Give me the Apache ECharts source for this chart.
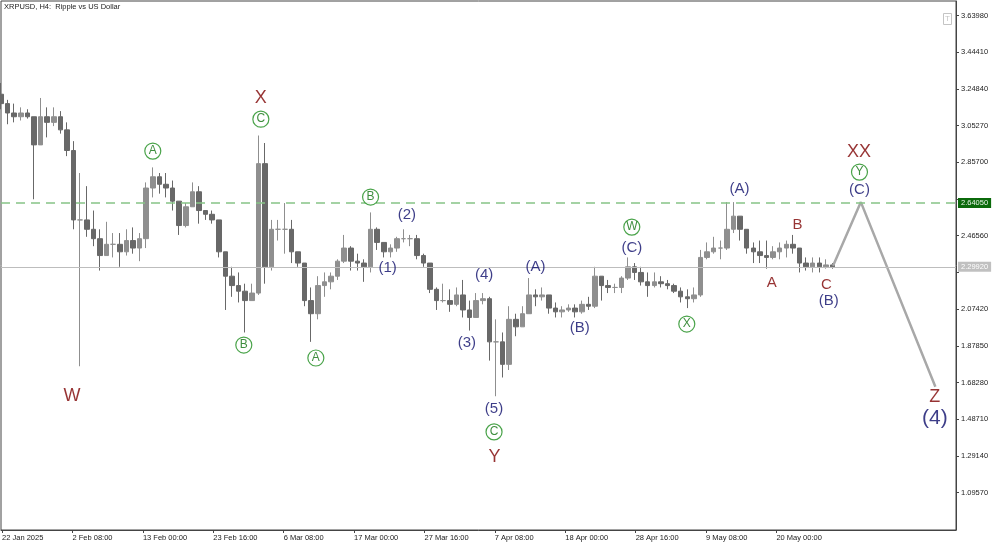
<!DOCTYPE html>
<html>
<head>
<meta charset="utf-8">
<title>XRPUSD H4</title>
<script src="https://cdn.jsdelivr.net/npm/echarts@6/dist/echarts.min.js"></script>
<style>
html, body { margin: 0; padding: 0; background: #fff; }
#chart { width: 1000px; height: 545px; }
</style>
</head>
<body>
<div id="chart"></div>
<script>
// daily bars, first bar = 22 Jan 2025
var firstDay = [2025, 0, 22];
var firstOpen = 3.22;
var highs = [
  3.28, 3.19, 3.17, 3.15, 3.14, 3.10, 3.20, 3.15, 3.15, 3.13, 3.07, 2.97, 2.80, 2.73, 2.60, 2.50,
  2.54, 2.48, 2.48, 2.50, 2.51, 2.48, 2.75, 2.83, 2.80, 2.80, 2.76, 2.64, 2.64, 2.75, 2.73, 2.60,
  2.60, 2.51, 2.35, 2.30, 2.27, 2.21, 2.21, 3.00, 2.96, 2.55, 2.55, 2.64, 2.55, 2.38, 2.32, 2.19,
  2.25, 2.27, 2.27, 2.34, 2.47, 2.41, 2.37, 2.34, 2.59, 2.51, 2.43, 2.42, 2.46, 2.50, 2.47, 2.47,
  2.37, 2.32, 2.19, 2.21, 2.18, 2.19, 2.23, 2.12, 2.16, 2.16, 2.14, 2.02, 1.95, 2.09, 2.05, 2.09,
  2.24, 2.18, 2.19, 2.15, 2.11, 2.09, 2.10, 2.10, 2.12, 2.14, 2.30, 2.25, 2.23, 2.21, 2.25, 2.35,
  2.32, 2.30, 2.27, 2.27, 2.25, 2.23, 2.21, 2.19, 2.18, 2.19, 2.39, 2.43, 2.46, 2.44, 2.645, 2.645,
  2.57, 2.50, 2.43, 2.44, 2.44, 2.41, 2.43, 2.44, 2.47, 2.40, 2.35, 2.35, 2.35, 2.34, 2.32
];
var lows = [
  3.14, 3.06, 3.07, 3.08, 3.09, 2.66, 2.95, 2.99, 3.05, 3.01, 2.89, 2.50, 1.77, 2.46, 2.41, 2.28,
  2.36, 2.35, 2.30, 2.36, 2.37, 2.33, 2.40, 2.67, 2.69, 2.67, 2.60, 2.47, 2.51, 2.66, 2.53, 2.55,
  2.53, 2.35, 2.07, 2.14, 2.11, 1.95, 2.12, 2.15, 2.21, 2.28, 2.44, 2.37, 2.32, 2.30, 2.09, 1.90,
  2.02, 2.14, 2.18, 2.23, 2.32, 2.28, 2.28, 2.22, 2.27, 2.39, 2.35, 2.35, 2.38, 2.43, 2.41, 2.34,
  2.30, 2.16, 2.07, 2.11, 2.06, 2.09, 2.03, 1.96, 2.03, 2.10, 1.80, 1.61, 1.71, 1.75, 1.93, 1.98,
  2.05, 2.09, 2.12, 2.05, 2.03, 2.03, 2.06, 2.03, 2.05, 2.07, 2.08, 2.12, 2.16, 2.16, 2.16, 2.23,
  2.23, 2.20, 2.14, 2.19, 2.19, 2.18, 2.16, 2.11, 2.08, 2.11, 2.14, 2.34, 2.37, 2.34, 2.39, 2.48,
  2.44, 2.37, 2.32, 2.32, 2.29, 2.34, 2.34, 2.35, 2.37, 2.27, 2.28, 2.27, 2.27, 2.29, 2.29
];
var closes = [
  3.17, 3.12, 3.10, 3.12, 3.10, 2.95, 3.10, 3.07, 3.10, 3.03, 2.92, 2.55, 2.55, 2.50, 2.45, 2.36,
  2.42, 2.42, 2.38, 2.44, 2.40, 2.45, 2.72, 2.78, 2.74, 2.72, 2.65, 2.52, 2.62, 2.70, 2.60, 2.58,
  2.55, 2.38, 2.25, 2.20, 2.17, 2.12, 2.16, 2.85, 2.30, 2.50, 2.50, 2.50, 2.38, 2.32, 2.12, 2.05,
  2.20, 2.22, 2.25, 2.33, 2.40, 2.33, 2.32, 2.30, 2.50, 2.43, 2.38, 2.40, 2.45, 2.45, 2.45, 2.36,
  2.32, 2.18, 2.12, 2.12, 2.10, 2.15, 2.07, 2.03, 2.12, 2.13, 1.90, 1.90, 1.78, 2.02, 1.98, 2.05,
  2.15, 2.14, 2.15, 2.08, 2.06, 2.07, 2.08, 2.06, 2.10, 2.09, 2.25, 2.20, 2.19, 2.19, 2.24, 2.30,
  2.27, 2.22, 2.20, 2.22, 2.21, 2.20, 2.17, 2.14, 2.13, 2.15, 2.35, 2.38, 2.40, 2.40, 2.50, 2.57,
  2.50, 2.40, 2.38, 2.36, 2.35, 2.38, 2.40, 2.42, 2.40, 2.32, 2.30, 2.32, 2.30, 2.31, 2.30
];

var xTickTimes = ['2025-01-22T16:00', '2025-02-02T08:00', '2025-02-13T00:00', '2025-02-23T16:00',
  '2025-03-06T08:00', '2025-03-17T00:00', '2025-03-27T16:00', '2025-04-07T08:00',
  '2025-04-18T00:00', '2025-04-28T16:00', '2025-05-09T08:00', '2025-05-20T00:00'];
var xTickLabels = ['22 Jan 2025', '2 Feb 08:00', '13 Feb 00:00', '23 Feb 16:00', '6 Mar 08:00',
  '17 Mar 00:00', '27 Mar 16:00', '7 Apr 08:00', '18 Apr 00:00', '28 Apr 16:00', '9 May 08:00',
  '20 May 00:00'];
var yTickValues = [1.09570, 1.29140, 1.48710, 1.68280, 1.87850, 2.07420, 2.26990, 2.46560,
  2.66130, 2.85700, 3.05270, 3.24840, 3.44410, 3.63980];
var yLabelValues = [1.09570, 1.29140, 1.48710, 1.68280, 1.87850, 2.07420, 2.46560,
  2.85700, 3.05270, 3.24840, 3.44410, 3.63980];

var targetLevel = 2.64050;
var lastPrice = 2.29920;

var forecastTimes = ['2025-05-28T14:00', '2025-06-01T19:00', '2025-06-13T02:00'];
var forecastValues = [2.306, 2.645, 1.661];

// wave marks
var bigRedText = ['W', 'X', 'Y', 'XX', 'Z'];
var bigRedTimes = ['2025-02-02T06:00', '2025-03-02T21:00', '2025-04-07T07:00', '2025-06-01T12:00', '2025-06-13T00:00'];
var bigRedPrices = [1.611, 3.199, 1.287, 2.912, 1.606];

var smallRedText = ['A', 'B', 'C'];
var smallRedTimes = ['2025-05-19T07:00', '2025-05-23T05:00', '2025-05-27T14:00'];
var smallRedPrices = [2.214, 2.523, 2.203];

var navyText = ['(1)', '(2)', '(3)', '(4)', '(5)', '(A)', '(B)', '(C)', '(A)', '(B)', '(C)'];
var navyTimes = ['2025-03-22T02:00', '2025-03-25T00:00', '2025-04-03T02:00', '2025-04-05T17:00',
  '2025-04-07T05:00', '2025-04-13T12:00', '2025-04-20T05:00', '2025-04-28T02:00',
  '2025-05-14T10:00', '2025-05-27T22:00', '2025-06-01T14:00'];
var navyPrices = [2.293, 2.576, 1.894, 2.256, 1.542, 2.300, 1.973, 2.400, 2.715, 2.118, 2.709];

var degreeText = ['(4)'];
var degreeTimes = ['2025-06-13T00:00'];
var degreePrices = [1.494];

var circleText = ['A', 'C', 'B', 'A', 'B', 'C', 'W', 'X', 'Y'];
var circleTimes = ['2025-02-14T12:00', '2025-03-02T21:00', '2025-02-28T07:00', '2025-03-11T05:00',
  '2025-03-19T12:00', '2025-04-07T05:00', '2025-04-28T02:00', '2025-05-06T10:00', '2025-06-01T14:00'];
var circlePrices = [2.917, 3.087, 1.883, 1.814, 2.672, 1.420, 2.512, 1.995, 2.805];

function ts(s) { return new Date(s).getTime(); }

var bars = [];
var prev = firstOpen;
for (var i = 0; i < closes.length; i++) {
  var t = new Date(firstDay[0], firstDay[1], firstDay[2] + i, 12).getTime();
  var o = prev;
  bars.push([t, o, closes[i], Math.min(lows[i], o), Math.max(highs[i], o)]);
  prev = closes[i];
}

var xTickStamps = xTickTimes.map(ts);

function marks(texts, times, prices) {
  return texts.map(function (s, k) { return { name: s, value: [ts(times[k]), prices[k]] }; });
}

var font = "'Liberation Sans', Arial, sans-serif";

function textSeries(texts, times, prices, color, size) {
  return {
    type: 'scatter',
    symbol: 'circle',
    symbolSize: 1,
    itemStyle: { color: 'rgba(0,0,0,0)' },
    silent: true,
    z: 5,
    label: {
      show: true, position: 'inside', formatter: '{b}',
      color: color, fontSize: size, fontFamily: font
    },
    data: marks(texts, times, prices)
  };
}

var chart = echarts.init(document.getElementById('chart'));

var option = {
  animation: false,
  backgroundColor: '#ffffff',
  title: {
    text: 'XRPUSD, H4:  Ripple vs US Dollar',
    left: 4, top: 3, padding: 0,
    textStyle: { fontSize: 7.5, fontWeight: 'normal', color: '#222', fontFamily: font }
  },
  graphic: [
    { type: 'rect', left: 943, top: 13, shape: { width: 8, height: 11 },
      style: { fill: '#fff', stroke: '#c4c4c4', lineWidth: 1 } },
    { type: 'text', left: 945, top: 15, style: { text: 'T', fill: '#c4c4c4', fontSize: 8, fontFamily: font } }
  ],
  grid: {
    left: 1, right: 44, top: 1, bottom: 15,
    containLabel: false, outerBoundsMode: 'none',
    show: true, borderColor: '#444', borderWidth: 1, backgroundColor: '#fff'
  },
  xAxis: {
    type: 'value',
    scale: true,
    min: ts('2025-01-22T12:00'),
    max: ts('2025-06-16T05:00'),
    axisLine: { show: true, onZero: false, lineStyle: { color: '#444' } },
    axisTick: { show: true, length: 3, customValues: xTickStamps, lineStyle: { color: '#444' } },
    axisLabel: {
      customValues: xTickStamps, align: 'left', margin: 4,
      fontSize: 7.5, color: '#222', fontFamily: font,
      formatter: function (v) { var k = xTickStamps.indexOf(v); return k >= 0 ? xTickLabels[k] : ''; }
    },
    splitLine: { show: false }
  },
  yAxis: {
    type: 'value',
    position: 'right',
    min: 0.897, max: 3.717,
    axisLine: { show: true, lineStyle: { color: '#444' } },
    axisTick: { show: true, length: 3, customValues: yTickValues, lineStyle: { color: '#444' } },
    axisLabel: {
      customValues: yLabelValues, margin: 5,
      fontSize: 7.5, color: '#222', fontFamily: font,
      formatter: function (v) { return v.toFixed(5); }
    },
    splitLine: { show: false }
  },
  series: [
    {
      type: 'candlestick',
      encode: { x: 0, y: [1, 2, 3, 4] },
      barWidth: 5,
      clip: true,
      itemStyle: {
        color: '#8f8f8f', color0: '#686868',
        borderColor: '#8f8f8f', borderColor0: '#686868', borderWidth: 1
      },
      data: bars,
      markLine: {
        silent: true,
        symbol: ['none', 'none'],
        data: [
          {
            yAxis: targetLevel,
            lineStyle: { color: '#86c486', type: [9, 6], width: 1.5 },
            label: {
              show: true, position: 'end', distance: 2, formatter: targetLevel.toFixed(5),
              backgroundColor: '#0b6a0b', color: '#e8f5e8', padding: [1, 3],
              fontSize: 7.5, fontFamily: font
            }
          },
          {
            yAxis: lastPrice,
            lineStyle: { color: '#bdbdbd', type: 'solid', width: 1 },
            label: {
              show: true, position: 'end', distance: 2, formatter: lastPrice.toFixed(5),
              backgroundColor: '#c0c0c0', color: '#ffffff', padding: [1, 3],
              fontSize: 7.5, fontFamily: font
            }
          }
        ]
      }
    },
    {
      type: 'line',
      symbol: 'none',
      silent: true,
      z: 4,
      lineStyle: { color: '#a8a8a8', width: 2.5 },
      data: forecastTimes.map(function (s, k) { return [ts(s), forecastValues[k]]; })
    },
    textSeries(bigRedText, bigRedTimes, bigRedPrices, '#7d0000', 18),
    textSeries(smallRedText, smallRedTimes, smallRedPrices, '#7d0000', 15),
    textSeries(navyText, navyTimes, navyPrices, '#0c0c6a', 15),
    textSeries(degreeText, degreeTimes, degreePrices, '#0c0c6a', 21),
    {
      type: 'scatter',
      symbol: 'circle',
      symbolSize: 16,
      silent: true,
      z: 6,
      itemStyle: { color: '#ffffff', borderColor: '#1c8c1c', borderWidth: 1.2 },
      label: {
        show: true, position: 'inside', formatter: '{b}',
        color: '#0f720f', fontSize: 12, fontFamily: font
      },
      data: marks(circleText, circleTimes, circlePrices)
    }
  ]
};

chart.setOption(option);
</script>
</body>
</html>
